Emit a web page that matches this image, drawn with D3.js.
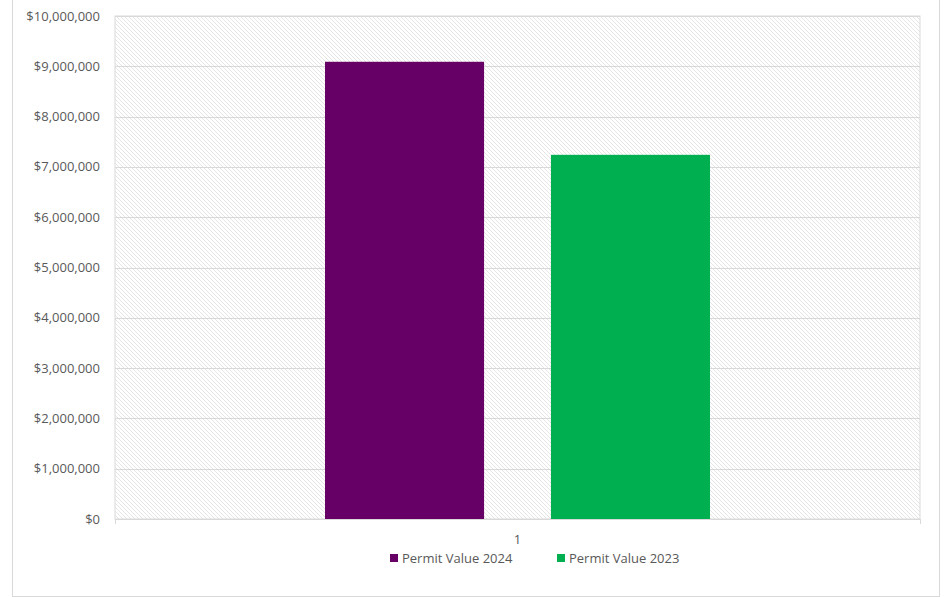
<!DOCTYPE html>
<html lang="en">
<head>
<meta charset="UTF-8">
<script src="https://cdnjs.cloudflare.com/ajax/libs/d3/7.9.0/d3.min.js"></script>
<title>Permit Value</title>
<style>
  body { margin: 0; background: #fff; font-family: "Open Sans", sans-serif; }
  svg { display: block; }
  text { fill: #595959; font-size: 13px; }
</style>
</head>
<body>
<div id="chart"></div>
<script>
  const width = 949;
  const height = 597;
  const margin = { top: 16, right: 29, bottom: 78, left: 115 };

  // data
  const categories = ["1"];
  const seriesNames = ["Permit Value 2024", "Permit Value 2023"];
  const seriesColors = ["#660066", "#00b050"];
  const seriesValues = [9090000, 7240000];
  const yTicks = [0, 1e6, 2e6, 3e6, 4e6, 5e6, 6e6, 7e6, 8e6, 9e6, 10e6];

  const svg = d3.select("#chart").append("svg")
    .attr("width", width)
    .attr("height", height);

  // outer chart frame
  svg.append("rect")
    .attr("x", 12.5).attr("y", -1)
    .attr("width", 927).attr("height", 597.5)
    .attr("fill", "none")
    .attr("stroke", "#d9d9d9");

  // hatch pattern for plot area
  const defs = svg.append("defs");
  const pat = defs.append("pattern")
    .attr("id", "hatch")
    .attr("patternUnits", "userSpaceOnUse")
    .attr("width", 4).attr("height", 4);
  pat.append("rect").attr("width", 4).attr("height", 4).attr("fill", "#fff");
  pat.append("path")
    .attr("d", "M-1,-1 L5,5 M-1,3 L1,5 M3,-1 L5,1")
    .attr("stroke", "#e2e2e2")
    .attr("stroke-width", 0.9);

  const x0 = margin.left, x1 = width - margin.right;
  const y0 = height - margin.bottom, y1 = margin.top;

  const y = d3.scaleLinear().domain([0, 10e6]).range([y0, y1]);
  const x = d3.scaleBand().domain(categories).range([x0, x1])
    .paddingInner(0).paddingOuter(0.5455);
  const xs = d3.scaleBand().domain(seriesNames).range([0, x.bandwidth()])
    .paddingInner(0.296).paddingOuter(0);

  // plot area background
  svg.append("rect")
    .attr("x", x0).attr("y", y1)
    .attr("width", x1 - x0).attr("height", y0 - y1)
    .attr("fill", "url(#hatch)")
    .attr("stroke", "#d9d9d9");

  // gridlines
  svg.append("g").selectAll("line")
    .data(yTicks)
    .join("line")
    .attr("x1", x0).attr("x2", x1)
    .attr("y1", d => Math.round(y(d)) + 0.5)
    .attr("y2", d => Math.round(y(d)) + 0.5)
    .attr("stroke", "#d9d9d9")
    .attr("stroke-width", 1.2);

  // y axis labels
  const fmt = d3.format("$,.0f");
  svg.append("g").selectAll("text")
    .data(yTicks)
    .join("text")
    .attr("x", 100)
    .attr("y", d => y(d))
    .attr("dy", "0.35em")
    .attr("text-anchor", "end")
    .text(d => fmt(d));

  // x axis boundary ticks
  svg.append("g").selectAll("line")
    .data([x0, x1])
    .join("line")
    .attr("x1", d => d + 0.5).attr("x2", d => d + 0.5)
    .attr("y1", y0).attr("y2", y0 + 5)
    .attr("stroke", "#d9d9d9");

  // bars
  const g = svg.append("g");
  categories.forEach(cat => {
    g.selectAll(null)
      .data(seriesNames.map((s, i) => ({ s, v: seriesValues[i], c: seriesColors[i] })))
      .join("rect")
      .attr("x", d => x(cat) + xs(d.s))
      .attr("y", d => y(d.v))
      .attr("width", xs.bandwidth())
      .attr("height", d => y(0) - y(d.v))
      .attr("fill", d => d.c);

    svg.append("text")
      .attr("x", x(cat) + x.bandwidth() / 2)
      .attr("y", y0 + 25)
      .attr("text-anchor", "middle")
      .text(cat);
  });

  // legend
  const legendX = [390, 557];
  const lg = svg.append("g");
  seriesNames.forEach((s, i) => {
    lg.append("rect")
      .attr("x", legendX[i]).attr("y", 554)
      .attr("width", 8).attr("height", 8)
      .attr("fill", seriesColors[i]);
    lg.append("text")
      .attr("x", legendX[i] + 12).attr("y", 563)
      .text(s);
  });
</script>
</body>
</html>
